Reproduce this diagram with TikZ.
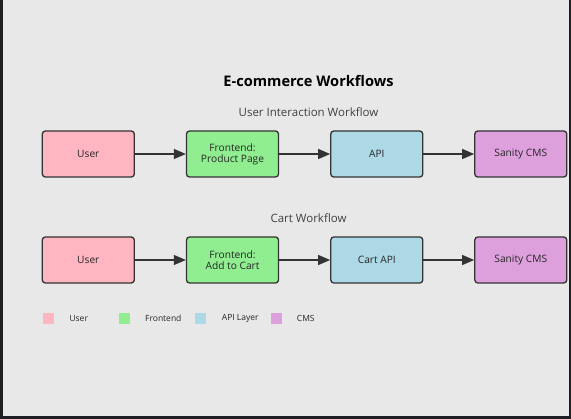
\documentclass[tikz,border=0pt]{standalone}
\usepackage{fontspec}
\setmainfont{Open Sans}
\usetikzlibrary{arrows.meta}
\definecolor{bgc}{HTML}{E8E8E8}
\definecolor{framec}{HTML}{1E1F22}
\definecolor{edgec}{HTML}{333333}
\definecolor{userc}{HTML}{FFB6C1}
\definecolor{frontc}{HTML}{90EE90}
\definecolor{apic}{HTML}{ADD8E6}
\definecolor{cmsc}{HTML}{DDA0DD}
\tikzset{
  wbox/.style={draw=edgec, line width=1.3pt, rounded corners=3pt, minimum width=92pt, minimum height=46pt, inner sep=0pt, align=center, font=\fontsize{10.2}{10.8}\selectfont, text=black!85},
  flow/.style={draw=edgec, line width=1.3pt, -{Triangle[length=12pt,width=10pt]}},
  swatch/.style={minimum width=11pt, minimum height=11pt, inner sep=0pt, anchor=north west},
  legtext/.style={anchor=west, inner sep=0pt, font=\fontsize{8.5}{10}\selectfont, text=black!85},
  subt/.style={font=\fontsize{11.5}{13}\selectfont, text=black!75}
}
\begin{document}
\begin{tikzpicture}[x=1pt,y=-1pt]
\fill[framec] (0,0) rectangle (571,419);
\fill[bgc] (3,0) rectangle (568.5,416);
\useasboundingbox (0,0) rectangle (571,419);
\node[font=\bfseries\fontsize{14.6}{16}\selectfont] (title) at (308.5,81) {E-commerce Workflows};
\node[subt] (sub1) at (308.5,112) {User Interaction Workflow};
\node[subt] (sub2) at (308.5,218) {Cart Workflow};
% row 1
\node[wbox, fill=userc]  (u1) at (88.3,154) {User};
\node[wbox, fill=frontc] (f1) at (232.5,154) {Frontend:\\Product Page};
\node[wbox, fill=apic]   (a1) at (376.8,154) {API};
\node[wbox, fill=cmsc]   (c1) at (520.8,154) {Sanity CMS};
% row 2
\node[wbox, fill=userc]  (u2) at (88.3,260) {User};
\node[wbox, fill=frontc] (f2) at (232.5,260) {Frontend:\\Add to Cart};
\node[wbox, fill=apic]   (a2) at (376.8,260) {Cart API};
\node[wbox, fill=cmsc]   (c2) at (520.8,260) {Sanity CMS};
\draw[flow] (u1) -- (f1);
\draw[flow] (f1) -- (a1);
\draw[flow] (a1) -- (c1);
\draw[flow] (u2) -- (f2);
\draw[flow] (f2) -- (a2);
\draw[flow] (a2) -- (c2);
% legend
\node[swatch, fill=userc]  (lu) at (43,313) {};
\node[legtext] (lut) at (69.3,318.5) {User};
\node[swatch, fill=frontc] (lf) at (118.5,313) {};
\node[legtext] (lft) at (145,318.5) {Frontend};
\node[swatch, fill=apic]   (la) at (195,313) {};
\node[legtext] (lat) at (221.7,318.5) {API Layer};
\node[swatch, fill=cmsc]   (lc) at (270.3,313) {};
\node[legtext] (lct) at (296.7,318.5) {CMS};
\end{tikzpicture}
\end{document}
